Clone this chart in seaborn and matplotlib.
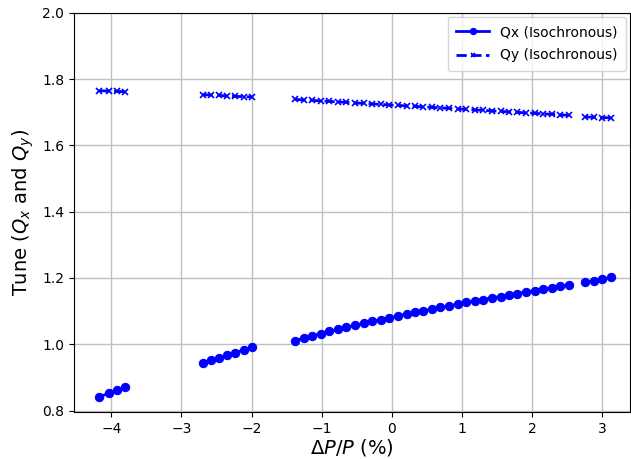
import matplotlib
matplotlib.use("Agg")
import matplotlib.pyplot as plt
import seaborn as sns
import pandas as pd

# momentum deviation (%) per segment
dpp_1 = [-4.17, -4.04, -3.92, -3.80]
dpp_2 = [-2.70, -2.58, -2.46, -2.35, -2.23, -2.11, -1.99]
dpp_3 = [-1.38, -1.26, -1.14, -1.01, -0.89, -0.77, -0.65, -0.53, -0.40, -0.28,
         -0.16, -0.04, 0.08, 0.21, 0.33, 0.45, 0.57, 0.69, 0.82, 0.94,
         1.06, 1.18, 1.30, 1.43, 1.55, 1.67, 1.79, 1.91, 2.04, 2.16,
         2.28, 2.40, 2.52]
dpp_4 = [2.76, 2.88, 3.00, 3.13]

# horizontal tune
qx_1 = [0.841, 0.852, 0.861, 0.870]
qx_2 = [0.944, 0.952, 0.960, 0.967, 0.975, 0.983, 0.991]
qx_3 = [1.011, 1.018, 1.025, 1.032, 1.039, 1.045, 1.051, 1.057, 1.063, 1.069,
        1.074, 1.080, 1.085, 1.091, 1.096, 1.101, 1.106, 1.111, 1.116, 1.121,
        1.126, 1.131, 1.135, 1.140, 1.144, 1.149, 1.153, 1.158, 1.162, 1.166,
        1.170, 1.175, 1.179]
qx_4 = [1.187, 1.192, 1.197, 1.202]

# vertical tune
qy_1 = [1.765, 1.764, 1.763, 1.762]
qy_2 = [1.753, 1.752, 1.751, 1.749, 1.748, 1.747, 1.746]
qy_3 = [1.739, 1.737, 1.736, 1.734, 1.733, 1.731, 1.730, 1.728, 1.727, 1.725,
        1.724, 1.722, 1.721, 1.719, 1.718, 1.716, 1.715, 1.713, 1.712, 1.710,
        1.709, 1.707, 1.706, 1.704, 1.703, 1.701, 1.700, 1.698, 1.697, 1.695,
        1.694, 1.692, 1.691]
qy_4 = [1.686, 1.685, 1.684, 1.683]

label_x = "Qx (Isochronous)"
label_y = "Qy (Isochronous)"

rows = []
for seg, (d, qx, qy) in enumerate(zip([dpp_1, dpp_2, dpp_3, dpp_4],
                                      [qx_1, qx_2, qx_3, qx_4],
                                      [qy_1, qy_2, qy_3, qy_4])):
    for i in range(len(d)):
        rows.append({"dpp": d[i], "qx": qx[i], "qy": qy[i], "seg": seg})
df = pd.DataFrame(rows)

fig, ax = plt.subplots(figsize=(6.31, 4.59), dpi=100)
fig.subplots_adjust(left=0.117, right=0.999, top=0.972, bottom=0.102)

# units= keeps the gaps between segments
sns.lineplot(data=df, x="dpp", y="qx", units="seg", estimator=None, sort=False,
             ax=ax, color="blue", marker="o", markeredgecolor="blue",
             markersize=6, linewidth=2, label=label_x)
sns.lineplot(data=df, x="dpp", y="qy", units="seg", estimator=None, sort=False,
             ax=ax, color="blue", marker="x", markeredgecolor="blue",
             markeredgewidth=1.2, markersize=4.5, linewidth=2, linestyle="--",
             label=label_y)

ax.grid(True, color="#c0c0c0", linewidth=1)
ax.set_axisbelow(True)
ax.set_xlim(-4.535, 3.40)
ax.set_ylim(0.795, 2.0)
ax.set_yticks([0.8, 1.0, 1.2, 1.4, 1.6, 1.8, 2.0])
ax.set_xlabel(r"$\Delta P/P$ (%)", fontsize=14, labelpad=1)
ax.set_ylabel(r"Tune ($Q_x$ and $Q_y$)", fontsize=14)

# one legend entry per series
handles, labels = ax.get_legend_handles_labels()
keep = {}
for h, l in zip(handles, labels):
    keep.setdefault(l, h)
ax.legend(list(keep.values()), list(keep.keys()), loc="upper right", fontsize=10,
          labelspacing=0.65, handlelength=2.4, markerscale=0.75,
          borderpad=0.6, borderaxespad=0.3)

fig.savefig("out.png", dpi=100)
